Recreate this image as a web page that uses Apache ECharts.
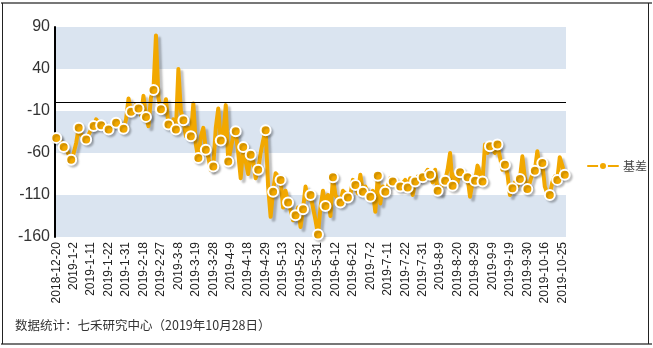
<!DOCTYPE html>
<html>
<head>
<meta charset="utf-8">
<script src="https://cdn.jsdelivr.net/npm/echarts@6/dist/echarts.min.js"></script>
<style>
html,body{margin:0;padding:0;background:#fff;}
#chart{width:653px;height:348px;}
</style>
</head>
<body>
<div id="chart"></div>
<script>
// Trading-day calendar (categories)
var startDate = '2018-12-20';
var endDate = '2019-10-28';
var holidays = ['2018-12-31','2019-1-1','2019-2-4','2019-2-5','2019-2-6','2019-2-7','2019-2-8',
  '2019-4-5','2019-5-1','2019-5-2','2019-5-3','2019-6-7','2019-9-13',
  '2019-10-1','2019-10-2','2019-10-3','2019-10-4','2019-10-7'];
var seriesName = '基差';
var basisValues = [
  -42,-40,-48,-53,-55,-62,-68,-60,-48,-30,
  -38,-42,-44,-38,-32,-28,-20,-24,-27,-26,
  -30,-32,-28,-25,-24,-22,-28,-31,-20,5,
  -11,-10,-2,-7,-15,8,-17,-28,6,15,
  80,5,-8,-12,4,-26,-30,-20,-32,40,
  -10,-21,-40,-30,-40,-1,-50,-66,-40,-30,
  -56,-65,-80,-76,-30,-7,-45,-40,-3,-70,
  -55,-40,-34,-60,-90,-53,-70,-85,-62,-70,
  -90,-80,-60,-45,-33,-100,-136,-106,-84,-88,
  -92,-125,-105,-119,-128,-140,-134,-125,-148,-127,
  -100,-115,-110,-125,-140,-157,-125,-105,-123,-110,
  -135,-89,-110,-115,-119,-105,-108,-113,-110,-92,
  -98,-108,-86,-106,-100,-108,-112,-105,-130,-87,
  -120,-100,-106,-100,-90,-94,-98,-95,-100,-96,
  -92,-101,-90,-110,-94,-88,-92,-89,-85,-80,
  -86,-95,-80,-105,-108,-95,-93,-80,-60,-99,
  -85,-95,-83,-85,-92,-89,-112,-95,-93,-75,
  -85,-94,-50,-60,-52,-55,-60,-50,-65,-80,
  -74,-85,-110,-102,-95,-100,-91,-64,-90,-103,
  -95,-85,-81,-58,-80,-72,-100,-108,-110,-95,
  -88,-92,-65,-75,-86
];
var yTicks = [-160,-110,-60,-10,40,90];
var footnote = '数据统计：七禾研究中心（2019年10月28日）';

function fmt(d){return d.getFullYear()+'-'+(d.getMonth()+1)+'-'+d.getDate();}
function parse(s){var p=s.split('-');return new Date(+p[0],+p[1]-1,+p[2]);}
var dates = [];
(function(){
  var d = parse(startDate), e = parse(endDate);
  while (d <= e) {
    var wd = d.getDay(), s = fmt(d);
    if (wd !== 0 && wd !== 6 && holidays.indexOf(s) < 0) dates.push(s);
    d.setDate(d.getDate()+1);
  }
})();

var orange = '#f2a800';
var chart = echarts.init(document.getElementById('chart'));
chart.setOption({
  animation: false,
  backgroundColor: '#ffffff',
  grid: {left: 55, right: 87, top: 27, bottom: 111, containLabel: false},
  legend: {
    data: [seriesName], left: 582, top: 155, itemWidth: 30, itemHeight: 10,
    textStyle: {color: '#444', fontSize: 12, fontFamily: 'Noto Sans CJK SC'}
  },
  xAxis: {
    type: 'category', data: dates, boundaryGap: true,
    axisLine: {show: false}, axisTick: {show: false},
    axisLabel: {interval: 6, rotate: 90, margin: 5, fontSize: 12, color: '#222', fontFamily: 'Arial, Liberation Sans'}
  },
  yAxis: {
    type: 'value', min: yTicks[0], max: yTicks[yTicks.length-1], interval: 50,
    axisLine: {show: true, lineStyle: {color: '#000', width: 2}},
    axisTick: {show: false},
    splitLine: {show: false},
    splitArea: {show: true, areaStyle: {color: ['#dae4f0', '#ffffff']}},
    axisLabel: {fontSize: 16, color: '#333', margin: 5, fontFamily: 'Arial, Liberation Sans'}
  },
  series: [{
    name: seriesName, type: 'line', data: basisValues,
    showAllSymbol: true,
    symbol: function(v, p){ return p.dataIndex % 3 === 0 ? 'circle' : 'none'; },
    symbolSize: 10,
    lineStyle: {color: orange, width: 4, join: 'round', cap: 'round',
      shadowColor: 'rgba(0,0,0,0.25)', shadowOffsetX: 3, shadowOffsetY: 3, shadowBlur: 2},
    itemStyle: {color: orange, borderColor: '#fff', borderWidth: 2,
      shadowColor: 'rgba(0,0,0,0.2)', shadowOffsetX: 2, shadowOffsetY: 2, shadowBlur: 2},
    markLine: {
      silent: true, symbol: 'none', label: {show: false},
      lineStyle: {color: '#000', width: 1, type: 'solid'},
      data: [{yAxis: 0}]
    },
    z: 3
  }],
  graphic: [
    {type: 'text', left: 15, top: 319, style: {text: footnote, fontSize: 12.5, fill: '#333', fontFamily: 'Noto Sans CJK SC'}},
    {type: 'line', shape: {x1: 1, y1: 3, x2: 652, y2: 3}, style: {stroke: '#777', lineWidth: 2}},
    {type: 'line', shape: {x1: 1, y1: 344, x2: 652, y2: 344}, style: {stroke: '#777', lineWidth: 2}},
    {type: 'line', shape: {x1: 2.5, y1: 3, x2: 2.5, y2: 344}, style: {stroke: '#222', lineWidth: 1}},
    {type: 'line', shape: {x1: 648.5, y1: 3, x2: 648.5, y2: 344}, style: {stroke: '#222', lineWidth: 1}}
  ]
});
</script>
</body>
</html>
